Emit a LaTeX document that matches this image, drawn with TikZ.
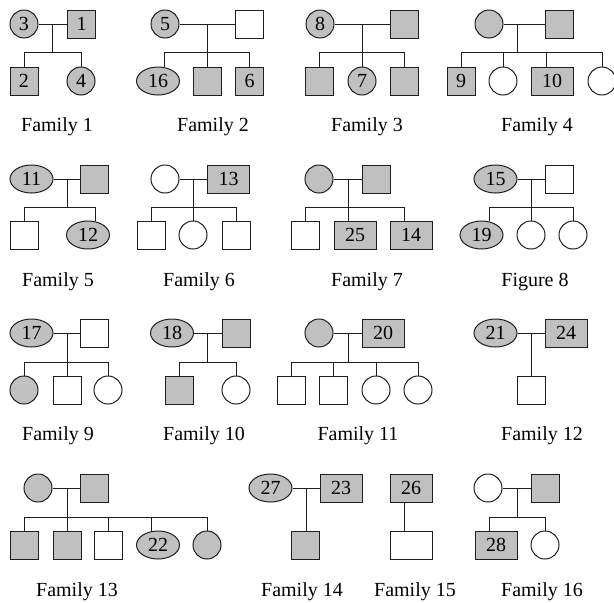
\documentclass[tikz,border=0pt]{standalone}
\usepackage{fontspec}
\setmainfont{Liberation Serif}
\usetikzlibrary{shapes.geometric}
\definecolor{affc}{RGB}{192,192,192}
\definecolor{linec}{RGB}{30,30,30}
\tikzset{
  base/.style={draw=linec, line width=1pt, inner sep=0pt, font=\fontsize{20}{20}\selectfont},
  fm/.style={base, circle, minimum size=28pt},
  ell/.style={base, ellipse, minimum width=43pt, minimum height=28pt},
  sq/.style={base, rectangle, minimum width=28pt, minimum height=28pt},
  wsq/.style={base, rectangle, minimum width=42pt, minimum height=28pt},
  aff/.style={fill=affc},
  lbl/.style={font=\fontsize{20}{20}\selectfont, anchor=base, inner sep=0pt},
  ln/.style={draw=linec, line width=1pt}
}
\newcommand\kidline[2]{\draw[ln] (#1) -- (#1 |- #2.north);}
\begin{document}
\begin{tikzpicture}[x=1pt,y=-1pt]
\useasboundingbox (0,0) rectangle (614,603);
% ---------- Family 1
\node[fm,aff] (f1m) at (24,24) {3};
\node[sq,aff] (f1f) at (81.5,24) {1};
\node[sq,aff] (f1a) at (24,81) {2};
\node[fm,aff] (f1b) at (81,81) {4};
\coordinate (f1d) at (52,24); \coordinate (f1s) at (52,52);
\coordinate (f1sa) at (24,52); \coordinate (f1sb) at (81,52);
\draw[ln] (f1m) -- (f1f); \draw[ln] (f1d) -- (f1s); \draw[ln] (f1sa) -- (f1sb);
\kidline{f1sa}{f1a} \kidline{f1sb}{f1b}
\node[lbl] (f1l) at (57,131) {Family 1};
% ---------- Family 2
\node[fm,aff] (f2m) at (165,24) {5};
\node[sq] (f2f) at (249.5,24) {};
\node[ell,aff] (f2a) at (158,81) {16};
\node[sq,aff] (f2b) at (207.5,81) {};
\node[sq,aff] (f2c) at (249.5,81) {6};
\coordinate (f2d) at (207,24); \coordinate (f2s) at (207,52);
\coordinate (f2sa) at (164,52); \coordinate (f2sc) at (249.5,52);
\draw[ln] (f2m) -- (f2f); \draw[ln] (f2d) -- (f2s); \draw[ln] (f2sa) -- (f2sc);
\kidline{f2sa}{f2a} \kidline{f2s}{f2b} \kidline{f2sc}{f2c}
\node[lbl] (f2l) at (213,131) {Family 2};
% ---------- Family 3
\node[fm,aff] (f3m) at (320,24) {8};
\node[sq,aff] (f3f) at (404,24) {};
\node[sq,aff] (f3a) at (319,81) {};
\node[fm,aff] (f3b) at (362,81) {7};
\node[sq,aff] (f3c) at (404,81) {};
\coordinate (f3d) at (362,24); \coordinate (f3s) at (362,52);
\coordinate (f3sa) at (319,52); \coordinate (f3sc) at (404,52);
\draw[ln] (f3m) -- (f3f); \draw[ln] (f3d) -- (f3s); \draw[ln] (f3sa) -- (f3sc);
\kidline{f3sa}{f3a} \kidline{f3s}{f3b} \kidline{f3sc}{f3c}
\node[lbl] (f3l) at (367,131) {Family 3};
% ---------- Family 4
\node[fm,aff] (f4m) at (489,24) {};
\node[sq,aff] (f4f) at (559,24) {};
\node[sq,aff] (f4a) at (461,81) {9};
\node[fm] (f4b) at (503,81) {};
\node[wsq,aff] (f4c) at (552,81) {10};
\node[fm] (f4e) at (602,81) {};
\coordinate (f4d) at (517,24); \coordinate (f4s) at (517,52);
\coordinate (f4sa) at (461,52); \coordinate (f4sb) at (503,52);
\coordinate (f4sc) at (546,52); \coordinate (f4se) at (602,52);
\draw[ln] (f4m) -- (f4f); \draw[ln] (f4d) -- (f4s); \draw[ln] (f4sa) -- (f4se);
\kidline{f4sa}{f4a} \kidline{f4sb}{f4b} \kidline{f4sc}{f4c} \kidline{f4se}{f4e}
\node[lbl] (f4l) at (537,131) {Family 4};
% ---------- Family 5
\node[ell,aff] (f5m) at (31.5,179) {11};
\node[sq,aff] (f5f) at (94.5,179) {};
\node[sq] (f5a) at (24,235) {};
\node[ell,aff] (f5b) at (88,235) {12};
\coordinate (f5d) at (67,179); \coordinate (f5s) at (67,207);
\coordinate (f5sa) at (24,207); \coordinate (f5sb) at (95,207);
\draw[ln] (f5m) -- (f5f); \draw[ln] (f5d) -- (f5s); \draw[ln] (f5sa) -- (f5sb);
\kidline{f5sa}{f5a} \kidline{f5sb}{f5b}
\node[lbl] (f5l) at (58,286) {Family 5};
% ---------- Family 6
\node[fm] (f6m) at (165,179) {};
\node[wsq,aff] (f6f) at (228.5,179) {13};
\node[sq] (f6a) at (151,235) {};
\node[fm] (f6b) at (193,235) {};
\node[sq] (f6c) at (236,235) {};
\coordinate (f6d) at (193,179); \coordinate (f6s) at (193,207);
\coordinate (f6sa) at (151,207); \coordinate (f6sc) at (236,207);
\draw[ln] (f6m) -- (f6f); \draw[ln] (f6d) -- (f6s); \draw[ln] (f6sa) -- (f6sc);
\kidline{f6sa}{f6a} \kidline{f6s}{f6b} \kidline{f6sc}{f6c}
\node[lbl] (f6l) at (199,286) {Family 6};
% ---------- Family 7
\node[fm,aff] (f7m) at (319,179) {};
\node[sq,aff] (f7f) at (376,179) {};
\node[sq] (f7a) at (305,235) {};
\node[wsq,aff] (f7b) at (355,235) {25};
\node[wsq,aff] (f7c) at (411,235) {14};
\coordinate (f7d) at (348,179); \coordinate (f7s) at (348,207);
\coordinate (f7sa) at (305,207); \coordinate (f7sc) at (404,207);
\draw[ln] (f7m) -- (f7f); \draw[ln] (f7d) -- (f7s); \draw[ln] (f7sa) -- (f7sc);
\kidline{f7sa}{f7a} \kidline{f7s}{f7b} \kidline{f7sc}{f7c}
\node[lbl] (f7l) at (367,286) {Family 7};
% ---------- Figure 8
\node[ell,aff] (f8m) at (495.5,179) {15};
\node[sq] (f8f) at (559,179) {};
\node[ell,aff] (f8a) at (481.5,235) {19};
\node[fm] (f8b) at (531,235) {};
\node[fm] (f8c) at (573,235) {};
\coordinate (f8d) at (531,179); \coordinate (f8s) at (531,207);
\coordinate (f8sa) at (489,207); \coordinate (f8sc) at (573,207);
\draw[ln] (f8m) -- (f8f); \draw[ln] (f8d) -- (f8s); \draw[ln] (f8sa) -- (f8sc);
\kidline{f8sa}{f8a} \kidline{f8s}{f8b} \kidline{f8sc}{f8c}
\node[lbl] (f8l) at (535,286) {Figure 8};
% ---------- Family 9
\node[ell,aff] (f9m) at (31.5,333) {17};
\node[sq] (f9f) at (94.5,333) {};
\node[fm,aff] (f9a) at (24,390) {};
\node[sq] (f9b) at (67,390) {};
\node[fm] (f9c) at (108,390) {};
\coordinate (f9d) at (67,333); \coordinate (f9s) at (67,362);
\coordinate (f9sa) at (24,362); \coordinate (f9sc) at (108,362);
\draw[ln] (f9m) -- (f9f); \draw[ln] (f9d) -- (f9s); \draw[ln] (f9sa) -- (f9sc);
\kidline{f9sa}{f9a} \kidline{f9s}{f9b} \kidline{f9sc}{f9c}
\node[lbl] (f9l) at (58,440) {Family 9};
% ---------- Family 10
\node[ell,aff] (f10m) at (172,333) {18};
\node[sq,aff] (f10f) at (236,333) {};
\node[sq,aff] (f10a) at (179,390) {};
\node[fm] (f10b) at (236,390) {};
\coordinate (f10d) at (207,333); \coordinate (f10s) at (207,362);
\coordinate (f10sa) at (179,362); \coordinate (f10sb) at (236,362);
\draw[ln] (f10m) -- (f10f); \draw[ln] (f10d) -- (f10s); \draw[ln] (f10sa) -- (f10sb);
\kidline{f10sa}{f10a} \kidline{f10sb}{f10b}
\node[lbl] (f10l) at (204,440) {Family 10};
% ---------- Family 11
\node[fm,aff] (f11m) at (319,333) {};
\node[wsq,aff] (f11f) at (383,333) {20};
\node[sq] (f11a) at (291.5,390) {};
\node[sq] (f11b) at (333,390) {};
\node[fm] (f11c) at (376,390) {};
\node[fm] (f11e) at (418,390) {};
\coordinate (f11d) at (348,333); \coordinate (f11s) at (348,362);
\coordinate (f11sa) at (291.5,362); \coordinate (f11sb) at (333,362);
\coordinate (f11sc) at (376,362); \coordinate (f11se) at (418,362);
\draw[ln] (f11m) -- (f11f); \draw[ln] (f11d) -- (f11s); \draw[ln] (f11sa) -- (f11se);
\kidline{f11sa}{f11a} \kidline{f11sb}{f11b} \kidline{f11sc}{f11c} \kidline{f11se}{f11e}
\node[lbl] (f11l) at (358,440) {Family 11};
% ---------- Family 12
\node[ell,aff] (f12m) at (495.5,333) {21};
\node[wsq,aff] (f12f) at (566,333) {24};
\node[sq] (f12a) at (531,390) {};
\coordinate (f12d) at (531,333);
\draw[ln] (f12m) -- (f12f); \kidline{f12d}{f12a}
\node[lbl] (f12l) at (542,440) {Family 12};
% ---------- Family 13
\node[fm,aff] (f13m) at (38,488) {};
\node[sq,aff] (f13f) at (94.5,488) {};
\node[sq,aff] (f13a) at (24,545) {};
\node[sq,aff] (f13b) at (67,545) {};
\node[sq] (f13c) at (108.5,545) {};
\node[ell,aff] (f13e) at (158,545) {22};
\node[fm,aff] (f13g) at (207,545) {};
\coordinate (f13d) at (67,488); \coordinate (f13s) at (67,517);
\coordinate (f13sa) at (24,517); \coordinate (f13sc) at (108,517);
\coordinate (f13se) at (151,517); \coordinate (f13sg) at (207,517);
\draw[ln] (f13m) -- (f13f); \draw[ln] (f13d) -- (f13s); \draw[ln] (f13sa) -- (f13sg);
\kidline{f13sa}{f13a} \kidline{f13s}{f13b} \kidline{f13sc}{f13c} \kidline{f13se}{f13e} \kidline{f13sg}{f13g}
\node[lbl] (f13l) at (77,596) {Family 13};
% ---------- Family 14
\node[ell,aff] (f14m) at (270.5,488) {27};
\node[wsq,aff] (f14f) at (341,488) {23};
\node[sq,aff] (f14a) at (305.5,545) {};
\coordinate (f14d) at (306,488);
\draw[ln] (f14m) -- (f14f); \kidline{f14d}{f14a}
\node[lbl] (f14l) at (302,596) {Family 14};
% ---------- Family 15
\node[wsq,aff] (f15f) at (411,488) {26};
\node[wsq] (f15a) at (411,545) {};
\coordinate (f15d) at (404,488);
\draw[ln] (f15f.south -| f15d) -- (f15d |- f15a.north);
\node[lbl] (f15l) at (415,596) {Family 15};
% ---------- Family 16
\node[fm] (f16m) at (488,488) {};
\node[sq,aff] (f16f) at (545,488) {};
\node[wsq,aff] (f16a) at (496,545) {28};
\node[fm] (f16b) at (545,545) {};
\coordinate (f16d) at (517,488); \coordinate (f16s) at (517,517);
\coordinate (f16sa) at (489,517); \coordinate (f16sb) at (545,517);
\draw[ln] (f16m) -- (f16f); \draw[ln] (f16d) -- (f16s); \draw[ln] (f16sa) -- (f16sb);
\kidline{f16sa}{f16a} \kidline{f16sb}{f16b}
\node[lbl] (f16l) at (542,596) {Family 16};
\end{tikzpicture}
\end{document}
